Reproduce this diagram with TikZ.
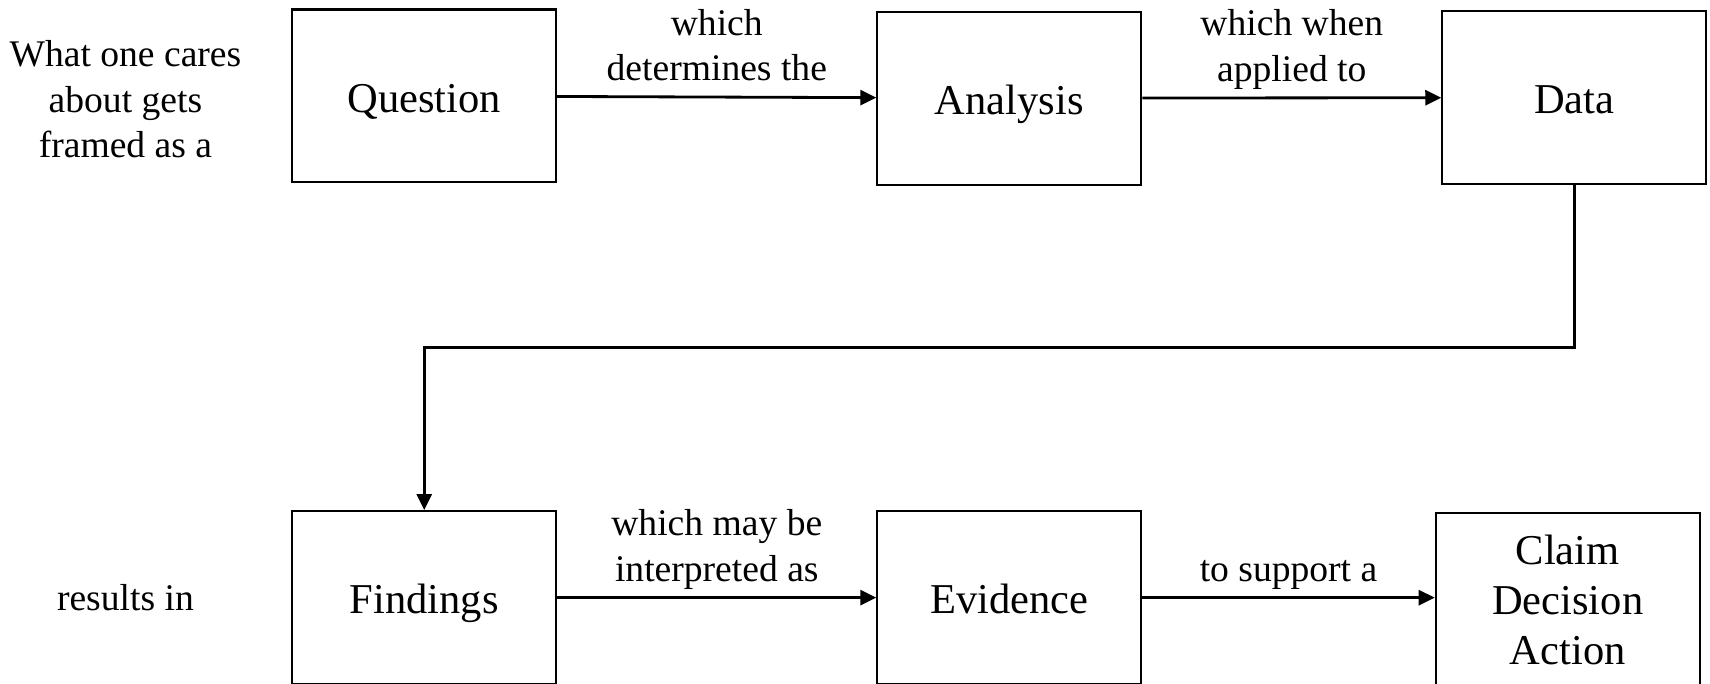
\documentclass[tikz,border=0pt]{standalone}
\usepackage{fontspec}
\setmainfont{Liberation Serif}
\usetikzlibrary{positioning}
\usetikzlibrary{arrows.meta}

\tikzset{
 stage/.style={draw,line width=0.6pt,minimum width=2.64cm,minimum height=1.73cm,align=center,font=\fontsize{12.1}{14.3}\selectfont},
 oneline/.style={text height=0.92em,text depth=0pt},
 lbl/.style={align=center,font=\fontsize{10.7}{12.9}\selectfont},
 edgelbl/.style={lbl,above=0pt,text depth=1pt},
 flow/.style={line width=0.8pt,-{Triangle[length=0.16cm,width=0.15cm]}}
}

\begin{document}
\begin{tikzpicture}[x=0.010906cm,y=-0.010906cm]
 \useasboundingbox (0,0) rectangle (1568,627);
 % top row
 \node[stage,oneline] (question) at (389,88) {Question};
 \node[stage,oneline] (analysis) at (925.5,90) {Analysis};
 \node[stage,oneline] (data) at (1443.5,89.5) {Data};
 % bottom row
 \node[stage,oneline] (findings) at (389,548) {Findings};
 \node[stage,oneline] (evidence) at (925.5,548) {Evidence};
 \node[stage] (claim) at (1437.5,550) {Claim\\Decision\\Action};
 % side texts
 \node[lbl] (cares) at (115,91) {What one cares\\about gets\\framed as a};
 \node[lbl] (results) at (115,548) {results in};
 \coordinate (turn) at (0,319);
 % connectors
 \draw[flow] (question) -- node[edgelbl] (determines) {which\\determines the} (analysis);
 \draw[flow] (analysis) -- node[edgelbl] (applied) {which when\\applied to} (data);
 \draw[flow] (data.south) -- (data.south |- turn) -| (findings.north);
 \draw[flow] (findings) -- node[edgelbl] (interpreted) {which may be\\interpreted as} (evidence);
 \draw[flow] (evidence) -- node[edgelbl] (support) {to support a} (claim.west |- evidence);
\end{tikzpicture}
\end{document}
